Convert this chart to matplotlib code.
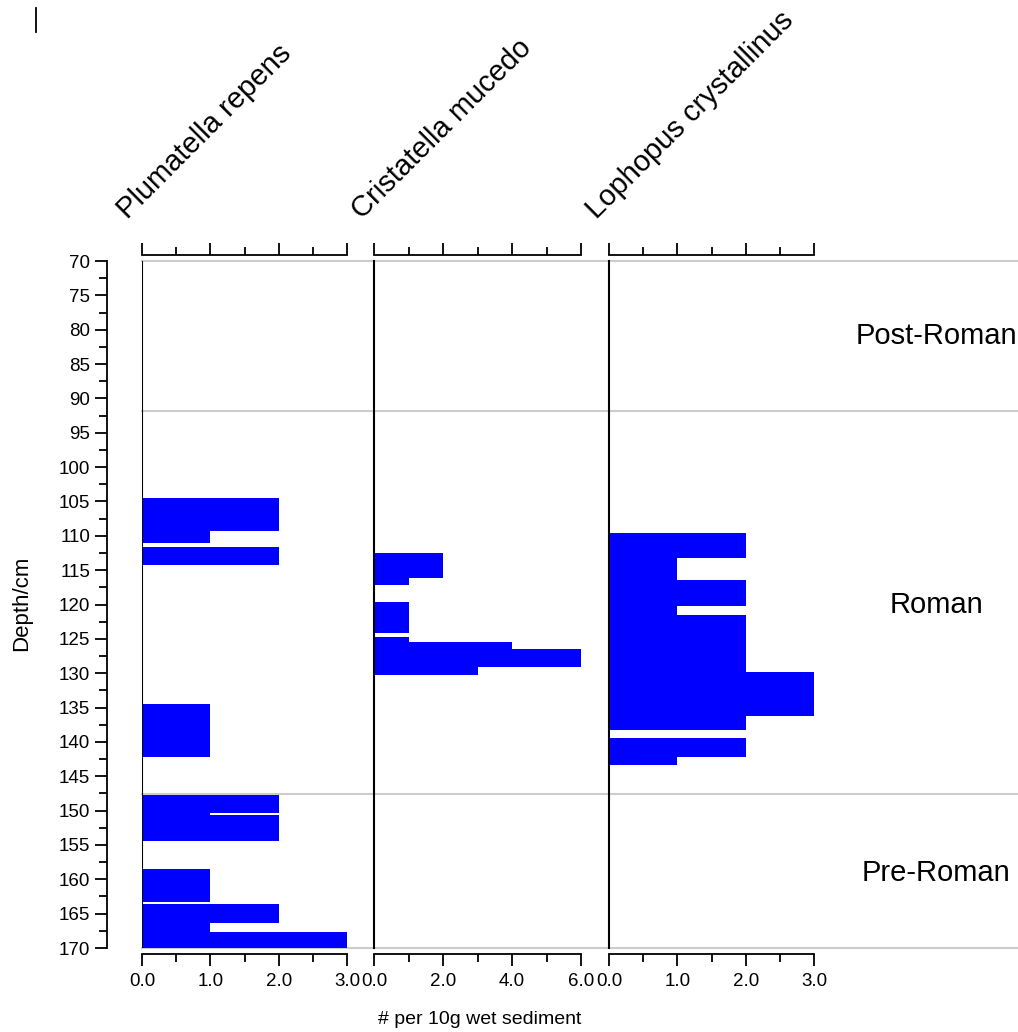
import matplotlib
matplotlib.use("Agg")
import matplotlib.pyplot as plt
from matplotlib.lines import Line2D
from matplotlib.ticker import MultipleLocator

plt.rcParams['font.family'] = ['Liberation Sans', 'DejaVu Sans']

# ---- data: each bar = (top depth, bottom depth, value) ----
species = ["Plumatella repens", "Cristatella mucedo", "Lophopus crystallinus"]
xmax = [3.0, 6.0, 3.0]
xmajor = [1.0, 2.0, 1.0]
xminor = [0.5, 1.0, 0.5]

plumatella_top = [104.5, 109.3, 111.7, 134.5, 147.7, 150.4, 150.7, 158.5, 163.6, 166.3, 167.6]
plumatella_bot = [109.3, 111.1, 114.3, 142.2, 150.4, 150.7, 154.4, 163.3, 166.3, 167.6, 170.0]
plumatella_val = [2, 1, 2, 1, 2, 1, 2, 1, 2, 1, 3]

cristatella_top = [112.5, 116.2, 119.6, 124.7, 125.5, 126.5, 129.1]
cristatella_bot = [116.2, 117.2, 124.1, 125.5, 126.5, 129.1, 130.2]
cristatella_val = [2, 1, 1, 1, 4, 6, 3]

lophopus_top = [109.6, 113.3, 116.5, 120.2, 121.5, 129.8, 136.3, 139.5, 142.2]
lophopus_bot = [113.3, 116.5, 120.2, 121.5, 129.8, 136.3, 138.2, 142.2, 143.3]
lophopus_val = [2, 1, 2, 1, 2, 3, 2, 2, 1]

zone_bounds = [70, 91.8, 147.6, 170]
zone_names = ["Post-Roman", "Roman", "Pre-Roman"]
zone_label_depth = [80.9, 120.1, 159.1]

depth_min, depth_max = 70, 170

W, H = 1018, 1032
fig = plt.figure(figsize=(W / 100, H / 100), dpi=100)

def fx(px):
    return px / W

def fy(py):
    return 1 - py / H

top_px, bot_px = 261, 948
panel_x = [(142, 347), (374, 581), (609, 814)]

# background axes for zone lines & labels
bg = fig.add_axes([fx(142), fy(bot_px), fx(W) - fx(142), fy(top_px) - fy(bot_px)])
bg.set_ylim(depth_max, depth_min)
bg.set_xlim(142, W)
bg.axis('off')
for b in zone_bounds:
    bg.axhline(b, color='#cccccc', lw=1.5, clip_on=False, zorder=0)
for name, d in zip(zone_names, zone_label_depth):
    bg.text(936, d, name, ha='center', va='center', fontsize=21)

datasets = [
    (plumatella_top, plumatella_bot, plumatella_val),
    (cristatella_top, cristatella_bot, cristatella_val),
    (lophopus_top, lophopus_bot, lophopus_val),
]

axes = []
for i, ((x0, x1), (tops, bots, vals)) in enumerate(zip(panel_x, datasets)):
    ax = fig.add_axes([fx(x0), fy(bot_px), fx(x1) - fx(x0), fy(top_px) - fy(bot_px)])
    ax.patch.set_alpha(0)
    heights = [b - t for t, b in zip(tops, bots)]
    ax.barh(tops, vals, height=heights, align='edge', color='#0000ff', linewidth=0)
    ax.set_xlim(0, xmax[i])
    ax.set_ylim(depth_max, depth_min)
    ax.spines['right'].set_visible(False)
    for s in ['top', 'bottom']:
        ax.spines[s].set_position(('outward', 4.3))
        ax.spines[s].set_linewidth(1.3)
    ax.xaxis.set_major_locator(MultipleLocator(xmajor[i]))
    ax.xaxis.set_minor_locator(MultipleLocator(xminor[i]))
    ax.xaxis.set_major_formatter(plt.FuncFormatter(lambda v, p: f"{v:.1f}"))
    ax.tick_params(axis='x', which='both', top=True, bottom=True, labeltop=False,
                   direction='out', width=1.3, labelsize=13.5, pad=5)
    ax.tick_params(axis='x', which='major', length=8.5)
    ax.tick_params(axis='x', which='minor', length=5.5)
    if i == 0:
        ax.spines['left'].set_position(('outward', 25.2))
        ax.spines['left'].set_linewidth(1.3)
        ax.yaxis.set_major_locator(MultipleLocator(5))
        ax.yaxis.set_minor_locator(MultipleLocator(2.5))
        ax.tick_params(axis='y', which='both', direction='out', width=1.3,
                       labelsize=13.5, pad=3)
        ax.tick_params(axis='y', which='major', length=9)
        ax.tick_params(axis='y', which='minor', length=5.5)
        ax.axvline(0, color='black', lw=1.5, zorder=3)
    else:
        ax.spines['left'].set_linewidth(1.5)
        ax.set_yticks([])
    axes.append(ax)

# species titles
title_anchor = [(128, 220), (362, 220), (597, 220)]
for name, (px, py) in zip(species, title_anchor):
    fig.text(fx(px), fy(py), name, rotation=45, rotation_mode='anchor',
             ha='left', va='baseline', fontsize=21)

fig.text(fx(22), fy(603), "Depth/cm", rotation=90, ha='center', va='center', fontsize=16)
fig.text(fx(480), fy(1020), "# per 10g wet sediment", ha='center', va='center', fontsize=14)

fig.add_artist(Line2D([fx(36), fx(36)], [fy(8), fy(32)], color='black', lw=1.3))

fig.savefig("out.png", dpi=100)
